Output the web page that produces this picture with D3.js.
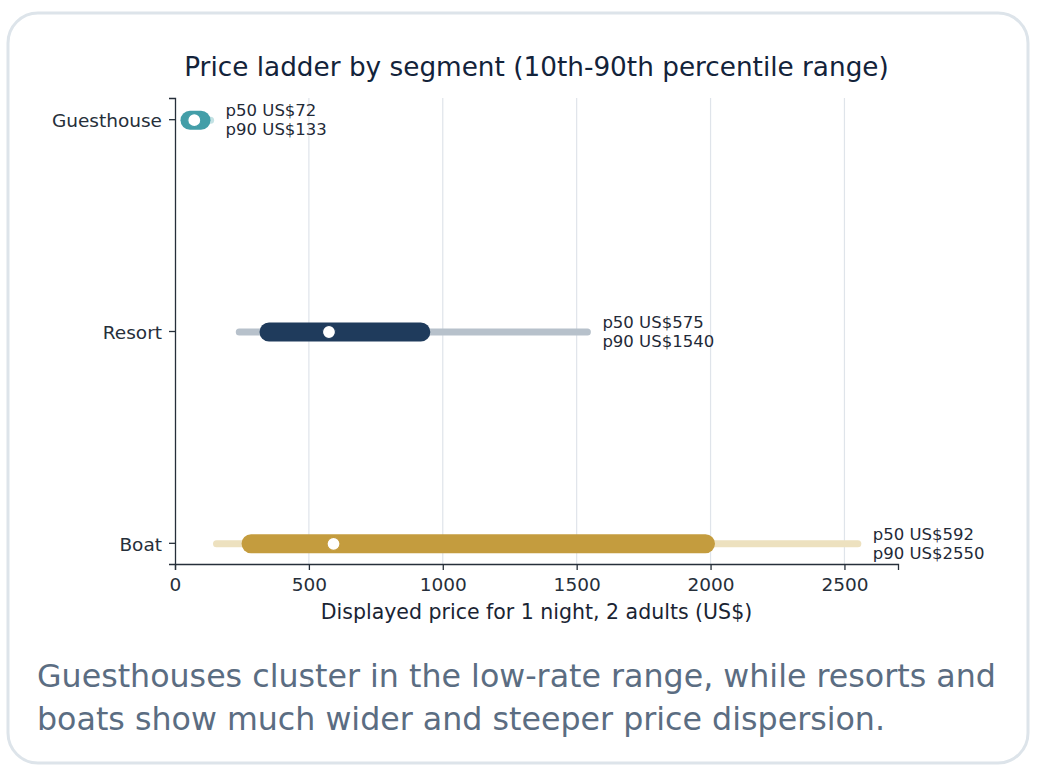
<!DOCTYPE html>
<html>
<head>
<meta charset="utf-8">
<script src="https://cdn.jsdelivr.net/npm/d3@7"></script>
<style>
  body { margin: 0; background: #fff; font-family: "DejaVu Sans", sans-serif; }
</style>
</head>
<body>
<svg id="chart" width="1038" height="767"></svg>
<script>
// data
var segments = ["Guesthouse", "Resort", "Boat"];
var p10 = [35, 240, 155];
var p25 = [56, 351, 284];
var p50 = [72, 575, 592];
var p75 = [97, 918, 1981];
var p90 = [133, 1540, 2550];
var xTicks = [0, 500, 1000, 1500, 2000, 2500];

var darkColor  = ["#439ea8", "#1f3b5c", "#c49c3e"];
var lightColor = ["#c3e2e4", "#b7c1cb", "#ede1bf"];

var svg = d3.select("#chart");

// card
svg.append("rect")
    .attr("x", 8).attr("y", 13)
    .attr("width", 1020).attr("height", 750)
    .attr("rx", 30).attr("ry", 30)
    .attr("fill", "#fff")
    .attr("stroke", "#dde4ea")
    .attr("stroke-width", 3);

var plotL = 175, plotR = 898, plotT = 98, plotB = 564;

var x = d3.scaleLinear().domain([0, 2700]).range([plotL, plotR]);
var y = d3.scalePoint().domain(segments).range([plotT, plotB]).padding(0.1);

// grid
svg.append("g")
    .selectAll("line")
    .data(xTicks.slice(1))
    .enter().append("line")
        .attr("x1", function(d) { return x(d); })
        .attr("x2", function(d) { return x(d); })
        .attr("y1", plotT).attr("y2", plotB)
        .attr("stroke", "#dfe4ea")
        .attr("stroke-width", 1.2);

/* x axis */
var xAxis = svg.append("g")
    .attr("transform", "translate(0," + plotB + ")")
    .call(d3.axisBottom(x).tickValues(xTicks).tickFormat(d3.format("d")).tickSize(6).tickPadding(8));
/* y axis */
var yAxis = svg.append("g")
    .attr("transform", "translate(" + (plotL) + ",0)")
    .call(d3.axisLeft(y).tickSize(6).tickPadding(7));

[xAxis, yAxis].forEach(function(a) {
    a.select(".domain").attr("stroke", "#262f3a").attr("stroke-width", 1.3);
    a.selectAll(".tick line").attr("stroke", "#262f3a").attr("stroke-width", 1.3);
    a.selectAll(".tick text")
        .attr("fill", "#262f3a")
        .style("font-family", "DejaVu Sans")
        .style("font-size", "18.5px");
});
yAxis.selectAll(".tick text").attr("dy", "0.4em");

var rows = segments.map(function(s, i) {
    return { seg: s, i: i, p10: p10[i], p25: p25[i], p50: p50[i], p75: p75[i], p90: p90[i] };
});

var marks = svg.append("g");
/* 10-90 range */
marks.selectAll("line.outer")
    .data(rows)
    .enter().append("line")
        .attr("class", "outer")
        .attr("x1", function(d) { return x(d.p10); })
        .attr("x2", function(d) { return x(d.p90); })
        .attr("y1", function(d) { return y(d.seg) + 1; })
        .attr("y2", function(d) { return y(d.seg) + 1; })
        .attr("stroke", function(d) { return lightColor[d.i]; })
        .attr("stroke-width", 7)
        .attr("stroke-linecap", "round");
/* 25-75 range */
marks.selectAll("line.inner")
    .data(rows)
    .enter().append("line")
        .attr("class", "inner")
        .attr("x1", function(d) { return x(d.p25); })
        .attr("x2", function(d) { return x(d.p75); })
        .attr("y1", function(d) { return y(d.seg) + 1; })
        .attr("y2", function(d) { return y(d.seg) + 1; })
        .attr("stroke", function(d) { return darkColor[d.i]; })
        .attr("stroke-width", 19)
        .attr("stroke-linecap", "round");
/* median */
marks.selectAll("circle")
    .data(rows)
    .enter().append("circle")
        .attr("cx", function(d) { return x(d.p50); })
        .attr("cy", function(d) { return y(d.seg) + 1; })
        .attr("r", 6.5)
        .attr("fill", "#fff")
        .attr("stroke", function(d) { return darkColor[d.i]; })
        .attr("stroke-width", 1.2);

/* labels */
var lab = marks.selectAll("text.lab")
    .data(rows)
    .enter().append("text")
        .attr("class", "lab")
        .attr("fill", "#1f2a37")
        .style("font-size", "16.5px");
lab.append("tspan")
    .attr("x", function(d) { return x(d.p90) + 15; })
    .attr("y", function(d) { return y(d.seg) - 3; })
    .text(function(d) { return "p50 US$" + d.p50; });
lab.append("tspan")
    .attr("x", function(d) { return x(d.p90) + 15; })
    .attr("y", function(d) { return y(d.seg) + 16; })
    .text(function(d) { return "p90 US$" + d.p90; });

// title, axis label
svg.append("text")
    .attr("x", (plotL + plotR) / 2).attr("y", 76)
    .attr("text-anchor", "middle")
    .attr("fill", "#13233a")
    .style("font-size", "26.3px")
    .text("Price ladder by segment (10th-90th percentile range)");

svg.append("text")
    .attr("x", (plotL + plotR) / 2).attr("y", 619)
    .attr("text-anchor", "middle")
    .attr("fill", "#1a2433")
    .style("font-size", "20.5px")
    .text("Displayed price for 1 night, 2 adults (US$)");

// caption
var cap = svg.append("text")
    .attr("fill", "#5b6d82")
    .style("font-size", "31.7px");
cap.append("tspan").attr("x", 37).attr("y", 687)
    .text("Guesthouses cluster in the low-rate range, while resorts and");
cap.append("tspan").attr("x", 37).attr("y", 730)
    .text("boats show much wider and steeper price dispersion.");
</script>
</body>
</html>
